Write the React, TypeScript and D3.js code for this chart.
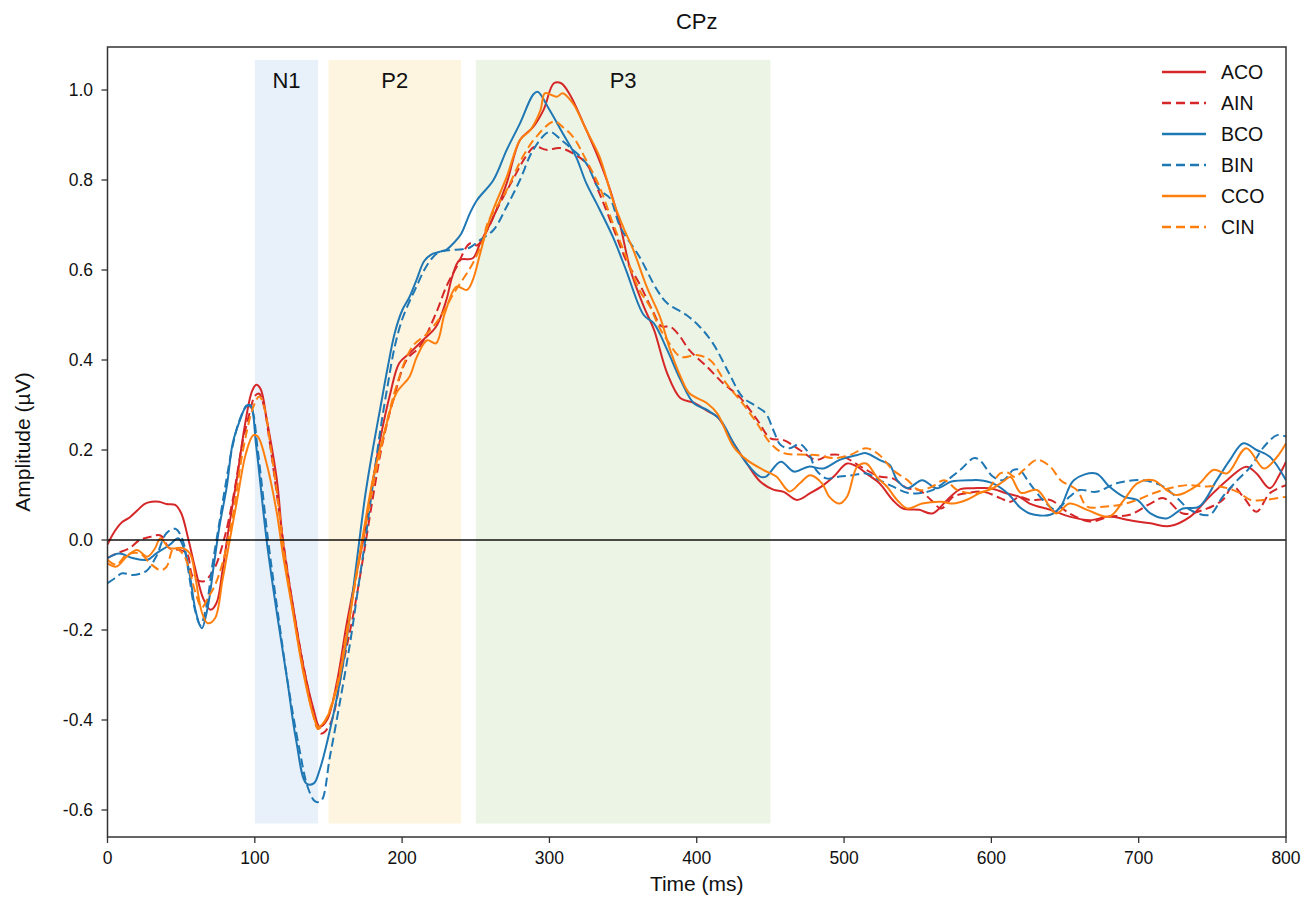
import React from "react";
import * as d3 from "d3";

// ERP waveforms at CPz: [time (ms), amplitude (µV)]
const ACO: [number, number][] = [[0,-0.01],[5,0.02],[10,0.04],[15,0.05],[20,0.065],[25,0.08],[30,0.085],[35,0.085],[40,0.08],[46,0.078],[50,0.06],[55,0.0],[60,-0.07],[65,-0.13],[70,-0.155],[74,-0.14],[78,-0.07],[82,0.02],[88,0.14],[93,0.25],[98,0.33],[101,0.345],[104,0.335],[108,0.27],[115,0.133],[119,0.0],[126,-0.148],[133,-0.281],[140,-0.378],[144,-0.415],[149,-0.4],[156,-0.311],[162,-0.193],[169,-0.074],[174,0.007],[178,0.089],[185,0.222],[192,0.326],[198,0.393],[205,0.415],[214,0.444],[223,0.474],[230,0.533],[234,0.585],[239,0.622],[248,0.626],[253,0.66],[262,0.718],[271,0.793],[280,0.889],[289,0.918],[296,0.956],[303,1.015],[308,1.015],[314,0.989],[323,0.926],[332,0.859],[341,0.78],[348,0.7],[355,0.6],[364,0.519],[371,0.467],[380,0.37],[389,0.315],[398,0.305],[408,0.285],[414,0.274],[425,0.215],[434,0.17],[443,0.13],[452,0.112],[459,0.107],[468,0.089],[477,0.104],[486,0.122],[493,0.141],[502,0.17],[509,0.163],[515,0.148],[524,0.126],[533,0.089],[540,0.07],[551,0.067],[560,0.059],[570,0.089],[579,0.113],[588,0.115],[599,0.115],[610,0.104],[619,0.096],[626,0.081],[640,0.067],[653,0.052],[667,0.044],[680,0.052],[694,0.044],[708,0.037],[721,0.031],[735,0.052],[748,0.096],[760,0.133],[773,0.163],[780,0.148],[789,0.115],[796,0.148],[800,0.174]];

const AIN: [number, number][] = [[0,-0.04],[6,-0.03],[15,-0.018],[22,0.0],[29,0.007],[36,0.01],[42,-0.018],[49,-0.022],[54,-0.03],[58,-0.081],[65,-0.092],[72,-0.067],[79,0.0],[85,0.089],[92,0.222],[97,0.289],[100,0.32],[103,0.325],[106,0.3],[110,0.22],[115,0.1],[120,-0.02],[126,-0.15],[133,-0.28],[139,-0.37],[145,-0.43],[151,-0.41],[160,-0.274],[167,-0.163],[174,-0.03],[181,0.111],[187,0.22],[194,0.311],[203,0.4],[212,0.43],[223,0.504],[230,0.563],[237,0.607],[246,0.659],[251,0.655],[258,0.69],[264,0.733],[275,0.8],[284,0.852],[290,0.874],[298,0.867],[307,0.871],[316,0.859],[325,0.837],[334,0.77],[343,0.696],[352,0.622],[361,0.57],[370,0.51],[376,0.475],[382,0.474],[388,0.455],[395,0.422],[407,0.385],[418,0.348],[429,0.318],[441,0.267],[450,0.226],[459,0.222],[470,0.2],[481,0.178],[490,0.189],[497,0.189],[506,0.174],[515,0.156],[524,0.141],[533,0.137],[543,0.115],[551,0.111],[559,0.089],[566,0.07],[574,0.096],[583,0.104],[595,0.107],[606,0.093],[613,0.085],[619,0.096],[626,0.089],[640,0.089],[653,0.059],[667,0.041],[680,0.052],[694,0.056],[708,0.081],[717,0.093],[730,0.059],[744,0.067],[757,0.089],[764,0.119],[771,0.096],[780,0.063],[789,0.104],[800,0.122]];

const BCO: [number, number][] = [[0,-0.04],[8,-0.03],[17,-0.04],[27,-0.044],[33,-0.03],[42,-0.011],[48,0.004],[52,-0.02],[56,-0.08],[60,-0.16],[64,-0.196],[68,-0.15],[72,-0.06],[76,0.03],[81,0.119],[85,0.215],[90,0.267],[94,0.296],[97,0.3],[101,0.207],[108,0.0],[115,-0.163],[122,-0.311],[128,-0.444],[135,-0.541],[140,-0.541],[144,-0.511],[151,-0.422],[160,-0.274],[167,-0.104],[171,0.0],[175,0.1],[180,0.2],[185,0.29],[190,0.38],[195,0.46],[200,0.51],[205,0.54],[210,0.58],[215,0.62],[220,0.635],[225,0.64],[230,0.645],[235,0.66],[240,0.68],[246,0.726],[251,0.756],[262,0.8],[271,0.867],[280,0.926],[289,0.99],[292,0.996],[300,0.956],[309,0.904],[318,0.852],[325,0.793],[332,0.748],[343,0.674],[352,0.6],[364,0.5],[371,0.481],[380,0.422],[389,0.356],[398,0.304],[407,0.289],[416,0.267],[425,0.215],[434,0.17],[443,0.141],[447,0.141],[457,0.174],[466,0.152],[476,0.163],[486,0.159],[497,0.178],[509,0.189],[515,0.193],[524,0.178],[531,0.167],[536,0.133],[543,0.115],[553,0.133],[563,0.115],[573,0.13],[587,0.133],[592,0.133],[601,0.126],[611,0.104],[619,0.074],[626,0.059],[640,0.056],[647,0.074],[656,0.133],[671,0.148],[680,0.119],[690,0.096],[699,0.089],[708,0.059],[719,0.048],[730,0.07],[741,0.074],[753,0.133],[762,0.178],[771,0.215],[780,0.2],[789,0.185],[800,0.133]];

const BIN: [number, number][] = [[0,-0.096],[5,-0.085],[10,-0.074],[17,-0.078],[22,-0.075],[27,-0.067],[33,-0.037],[40,0.015],[46,0.025],[51,0.0],[55,-0.07],[59,-0.15],[63,-0.189],[67,-0.15],[71,-0.06],[75,0.02],[80,0.12],[85,0.21],[90,0.27],[95,0.3],[98,0.29],[102,0.2],[109,0.0],[116,-0.17],[123,-0.33],[130,-0.46],[136,-0.55],[141,-0.581],[145,-0.58],[151,-0.481],[158,-0.356],[165,-0.222],[170,-0.11],[175,0.0],[180,0.12],[185,0.24],[190,0.34],[195,0.43],[200,0.49],[205,0.53],[210,0.565],[215,0.6],[220,0.625],[225,0.64],[232,0.644],[241,0.646],[246,0.65],[253,0.667],[262,0.689],[271,0.741],[280,0.8],[289,0.867],[300,0.907],[308,0.889],[316,0.867],[325,0.837],[334,0.778],[341,0.76],[348,0.696],[361,0.63],[373,0.556],[380,0.526],[393,0.5],[402,0.474],[411,0.437],[422,0.37],[431,0.318],[441,0.296],[447,0.281],[452,0.244],[457,0.211],[463,0.204],[470,0.213],[476,0.193],[481,0.156],[488,0.137],[497,0.141],[506,0.144],[515,0.148],[524,0.133],[533,0.119],[543,0.105],[551,0.104],[560,0.111],[570,0.133],[579,0.156],[588,0.182],[592,0.178],[601,0.141],[608,0.133],[615,0.156],[619,0.156],[626,0.126],[635,0.089],[644,0.067],[653,0.096],[660,0.111],[671,0.107],[685,0.126],[701,0.133],[715,0.122],[724,0.1],[735,0.067],[748,0.056],[757,0.096],[767,0.133],[776,0.163],[785,0.207],[794,0.233],[800,0.23]];

const CCO: [number, number][] = [[0,-0.052],[6,-0.059],[13,-0.037],[20,-0.022],[27,-0.037],[32,-0.02],[36,0.004],[42,-0.018],[51,-0.018],[56,-0.03],[60,-0.09],[64,-0.16],[68,-0.185],[73,-0.174],[78,-0.09],[83,0.0],[88,0.089],[94,0.193],[99,0.233],[102,0.23],[108,0.17],[115,0.059],[119,-0.03],[126,-0.163],[133,-0.296],[140,-0.393],[143,-0.415],[148,-0.4],[156,-0.326],[162,-0.222],[169,-0.074],[174,0.022],[180,0.133],[188,0.24],[196,0.326],[205,0.363],[210,0.407],[217,0.444],[223,0.437],[229,0.504],[237,0.563],[244,0.556],[248,0.578],[253,0.637],[260,0.718],[271,0.807],[280,0.889],[287,0.911],[294,0.956],[297,0.993],[305,0.985],[309,0.993],[316,0.97],[325,0.911],[334,0.852],[343,0.756],[350,0.696],[357,0.644],[366,0.563],[375,0.496],[382,0.422],[389,0.363],[395,0.326],[407,0.304],[414,0.281],[425,0.207],[434,0.178],[445,0.156],[454,0.141],[463,0.108],[470,0.126],[477,0.144],[485,0.126],[490,0.096],[497,0.081],[502,0.096],[509,0.163],[515,0.17],[522,0.141],[529,0.119],[536,0.089],[543,0.07],[553,0.081],[566,0.085],[574,0.081],[583,0.089],[592,0.104],[601,0.115],[608,0.13],[613,0.14],[620,0.105],[631,0.111],[644,0.059],[653,0.081],[665,0.067],[680,0.052],[690,0.089],[699,0.126],[710,0.133],[719,0.111],[726,0.1],[740,0.122],[751,0.156],[760,0.148],[773,0.204],[785,0.159],[794,0.185],[800,0.215]];

const CIN: [number, number][] = [[0,-0.044],[6,-0.055],[13,-0.033],[22,-0.03],[29,-0.052],[36,-0.067],[40,-0.06],[45,-0.018],[51,-0.03],[55,-0.06],[60,-0.12],[64,-0.15],[68,-0.13],[73,-0.1],[78,-0.052],[85,0.052],[92,0.2],[99,0.296],[103,0.319],[106,0.3],[111,0.2],[116,0.08],[120,-0.03],[126,-0.16],[133,-0.29],[139,-0.38],[143,-0.42],[148,-0.4],[156,-0.32],[162,-0.21],[169,-0.08],[175,0.03],[183,0.163],[196,0.341],[207,0.43],[217,0.459],[226,0.496],[235,0.548],[241,0.578],[248,0.615],[255,0.667],[258,0.704],[271,0.778],[282,0.852],[291,0.896],[303,0.93],[309,0.918],[316,0.896],[325,0.844],[334,0.785],[343,0.704],[352,0.63],[361,0.556],[368,0.52],[375,0.47],[380,0.444],[389,0.407],[400,0.411],[409,0.4],[420,0.348],[431,0.304],[441,0.259],[450,0.215],[459,0.193],[470,0.19],[481,0.189],[493,0.182],[504,0.189],[515,0.204],[524,0.189],[533,0.156],[543,0.133],[551,0.111],[560,0.119],[568,0.133],[577,0.111],[588,0.104],[597,0.111],[606,0.148],[611,0.15],[616,0.14],[622,0.156],[631,0.178],[640,0.163],[647,0.133],[658,0.111],[665,0.074],[676,0.074],[687,0.078],[699,0.089],[710,0.104],[721,0.115],[733,0.122],[744,0.119],[755,0.119],[767,0.107],[776,0.089],[785,0.089],[800,0.096]];

// Component windows (ms)
const windowNames = ["N1", "P2", "P3"];
const windowStarts = [100, 150, 250];
const windowEnds = [143, 240, 450];
const windowColors = ["#e8f1f9", "#fdf5e0", "#ecf4e5"];

const xTicks = [0, 100, 200, 300, 400, 500, 600, 700, 800];
const yTicks = [-0.6, -0.4, -0.2, 0.0, 0.2, 0.4, 0.6, 0.8, 1.0];

const seriesNames = ["ACO", "AIN", "BCO", "BIN", "CCO", "CIN"];
const seriesData = [ACO, AIN, BCO, BIN, CCO, CIN];
const seriesColors = ["#d62728", "#d62728", "#1f77b4", "#1f77b4", "#ff7f0e", "#ff7f0e"];
const seriesDashed = [false, true, false, true, false, true];

const W = 1315;
const H = 901;
const left = 107.5;
const right = 1286;
const top = 47;
const bottom = 837;
const FONT = "'Liberation Sans', Arial, Helvetica, sans-serif";

export default function App() {
  const x = d3.scaleLinear().domain([0, 800]).range([left, right]);
  const y = d3.scaleLinear().domain([-0.66, 1.0956]).range([bottom, top]);
  const line = d3
    .line<[number, number]>()
    .x((d) => x(d[0]))
    .y((d) => y(d[1]))
    .curve(d3.curveCatmullRom.alpha(0.5));

  const bandTop = y(1.067);
  const bandBottom = y(-0.63);

  return (
    <svg
      width={W}
      height={H}
      style={{ position: "absolute", left: 0, top: 0, background: "#fff" }}
      fontFamily={FONT}
    >
      <rect x={0} y={0} width={W} height={H} fill="#fff" />
      <defs>
        <clipPath id="plot-clip">
          <rect x={left} y={top} width={right - left} height={bottom - top} />
        </clipPath>
      </defs>

      {/* shaded component windows */}
      {windowNames.map((n, i) => (
        <g key={n}>
          <rect
            x={x(windowStarts[i])}
            y={bandTop}
            width={x(windowEnds[i]) - x(windowStarts[i])}
            height={bandBottom - bandTop}
            fill={windowColors[i]}
          />
          <text
            x={(x(windowStarts[i]) + x(windowEnds[i])) / 2}
            y={88}
            textAnchor="middle"
            fontSize={22}
            fill="#111"
          >
            {n}
          </text>
        </g>
      ))}

      {/* waveforms */}
      <g clipPath="url(#plot-clip)">
        {seriesData.map((d, i) => (
          <path
            key={seriesNames[i]}
            d={line(d) || ""}
            fill="none"
            stroke={seriesColors[i]}
            strokeWidth={2}
            strokeDasharray={seriesDashed[i] ? "9,4.5" : undefined}
            strokeLinejoin="round"
          />
        ))}
        {/* zero line */}
        <line x1={left} x2={right} y1={y(0)} y2={y(0)} stroke="#000" strokeOpacity={0.7} strokeWidth={2} />
      </g>

      {/* frame */}
      <rect x={left} y={top} width={right - left} height={bottom - top} fill="none" stroke="#333" strokeWidth={1.5} />

      {/* x axis */}
      {xTicks.map((t) => (
        <g key={"x" + t}>
          <line x1={x(t)} x2={x(t)} y1={bottom} y2={bottom + 6} stroke="#333" strokeWidth={1.3} />
          <text x={x(t)} y={864} textAnchor="middle" fontSize={17.5} fill="#111">
            {t}
          </text>
        </g>
      ))}
      {/* y axis */}
      {yTicks.map((t) => (
        <g key={"y" + t}>
          <line x1={left - 6} x2={left} y1={y(t)} y2={y(t)} stroke="#333" strokeWidth={1.3} />
          <text x={93} y={y(t)} dy="0.36em" textAnchor="end" fontSize={17.5} fill="#111">
            {t.toFixed(1)}
          </text>
        </g>
      ))}

      <text x={(left + right) / 2} y={891} textAnchor="middle" fontSize={21} fill="#111">
        Time (ms)
      </text>
      <text
        transform={`translate(30, ${(top + bottom) / 2}) rotate(-90)`}
        textAnchor="middle"
        fontSize={21}
        fill="#111"
      >
        Amplitude (µV)
      </text>
      <text x={(left + right) / 2} y={29} textAnchor="middle" fontSize={22} fill="#111">
        CPz
      </text>

      {/* legend */}
      {seriesNames.map((n, i) => {
        const ly = 72 + i * 31;
        return (
          <g key={"lg" + n}>
            <line
              x1={1162}
              x2={1206}
              y1={ly}
              y2={ly}
              stroke={seriesColors[i]}
              strokeWidth={2.5}
              strokeDasharray={seriesDashed[i] ? "9,5" : undefined}
            />
            <text x={1221} y={ly} dy="0.36em" fontSize={19.5} fill="#111">
              {n}
            </text>
          </g>
        );
      })}
    </svg>
  );
}
